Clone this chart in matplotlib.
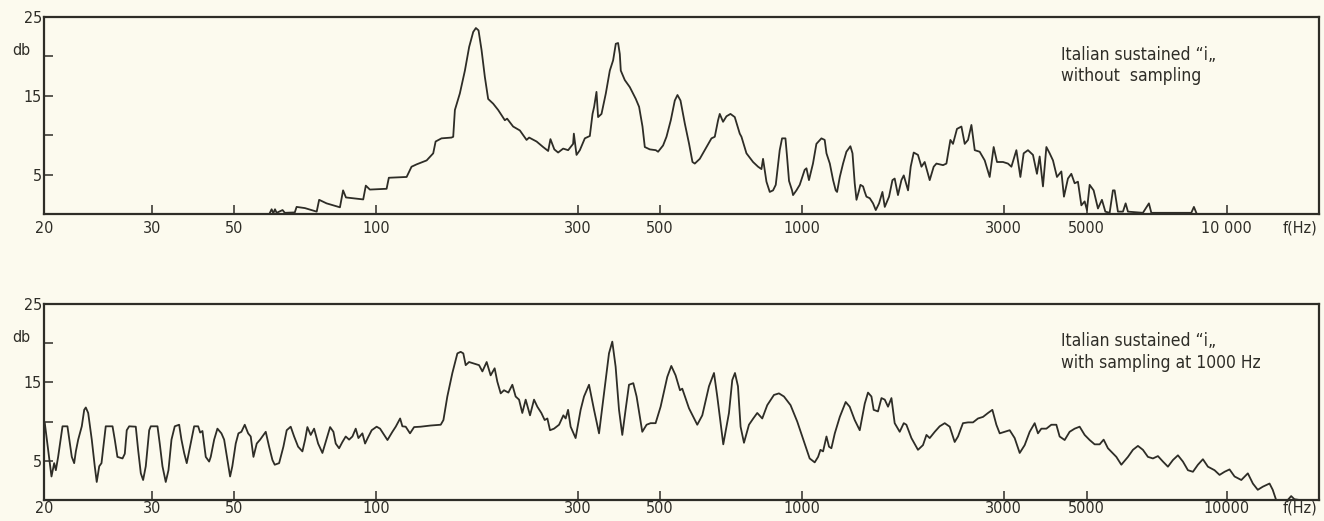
import matplotlib.pyplot as plt
import numpy as np
from matplotlib.ticker import NullLocator
from matplotlib.transforms import blended_transform_factory

# Spectrum of an Italian sustained "i": without sampling (top), sampled at 1000 Hz (bottom)

# --- top curve (Hz, db) ---
hz_top = [59.6, 60.1, 60.6, 61.1, 61.6, 63.4, 64.1, 67.3, 67.9, 70.7, 74.9, 75.8, 78.6,
          83.9, 85.2, 86.4, 94.0, 95.2, 97.1, 106.0, 107.3, 118.2, 121.4, 124.8, 131.8,
          136.6, 138.4, 142.9, 150.9, 152.3, 153.7, 157.9, 162.3, 166.1, 169.8, 172.3,
          174.8, 177.7, 180.9, 184.2, 189.3, 194.5, 201.7, 204.2, 211.0, 218.9, 227.0,
          230.2, 239.7, 248.4, 255.3, 258.5, 264.0, 269.5, 277.0, 284.6, 292.4, 293.6,
          297.9, 303.8, 313.4, 323.3, 328.8, 332.1, 337.0, 340.4, 347.7, 357.2, 366.2,
          373.8, 380.1, 385.6, 389.7, 392.1, 402.0, 414.8, 430.6, 439.5, 448.9, 455.4,
          469.8, 487.7, 494.7, 508.1, 516.6, 527.6, 538.0, 545.1, 553.2, 564.9, 576.9,
          586.5, 593.2, 607.8, 622.8, 643.5, 654.0, 664.6, 670.1, 681.0, 692.4, 706.1,
          721.0, 738.8, 745.0, 763.4, 788.4, 807.9, 821.4, 827.8, 841.7, 855.4, 869.3,
          880.8, 895.1, 898.0, 908.4, 923.5, 930.7, 939.8, 953.7, 958.4, 974.4, 990.2,
          1016, 1026, 1040, 1063, 1083, 1113, 1133, 1144, 1165, 1186, 1203, 1212, 1230,
          1252, 1275, 1303, 1318, 1334, 1347, 1366, 1376, 1396, 1409, 1422, 1448, 1474,
          1496, 1523, 1551, 1571, 1608, 1638, 1658, 1688, 1720, 1742, 1783, 1809, 1839,
          1882, 1918, 1952, 2006, 2050, 2081, 2157, 2197, 2245, 2277, 2327, 2384, 2427,
          2471, 2517, 2563, 2633, 2706, 2780, 2841, 2893, 2989, 3080, 3146, 3244, 3325,
          3393, 3484, 3593, 3682, 3744, 3821, 3902, 3982, 4064, 4165, 4279, 4348, 4456,
          4550, 4644, 4739, 4840, 4939, 5007, 5075, 5176, 5288, 5393, 5485, 5603, 5695,
          5743, 5838, 5985, 6065, 6135, 6607, 6806, 6888, 8396, 8505, 8607]
db_top = [0.15, 0.6, 0.1, 0.6, 0.15, 0.5, 0.15, 0.2, 0.9, 0.75, 0.3, 1.8, 1.35,
          0.85, 3.0, 2.1, 1.85, 3.6, 3.1, 3.2, 4.6, 4.7, 6.0, 6.3, 6.8,
          7.7, 9.2, 9.6, 9.7, 9.8, 13.2, 15.3, 18.2, 21.2, 23.1, 23.6,
          23.3, 20.8, 17.4, 14.6, 14.0, 13.2, 11.9, 12.1, 11.1, 10.6, 9.4,
          9.7, 9.2, 8.5, 8.0, 9.5, 8.2, 7.8, 8.3, 8.1, 8.9, 10.2,
          7.5, 8.1, 9.6, 9.9, 12.7, 13.6, 15.5, 12.3, 12.7, 15.3, 18.2,
          19.5, 21.6, 21.7, 20.3, 18.2, 17.0, 16.1, 14.6, 13.6, 11.1, 8.5,
          8.2, 8.1, 7.9, 8.7, 9.8, 11.9, 14.4, 15.1, 14.4, 11.5, 8.9,
          6.6, 6.4, 7.0, 8.1, 9.6, 9.8, 11.9, 12.7, 11.7, 12.4, 12.7,
          12.3, 10.2, 9.8, 7.7, 6.6, 6.0, 5.7, 7.0, 4.1, 2.8, 3.0,
          3.7, 7.3, 8.1, 9.6, 9.6, 7.3, 4.2, 3.0, 2.4, 3.0, 3.7,
          5.6, 5.8, 4.3, 6.4, 8.9, 9.6, 9.4, 7.7, 6.4, 4.3, 3.0, 2.8, 4.7,
          6.4, 7.9, 8.6, 7.7, 3.9, 1.8, 3.0, 3.7, 3.5, 2.8, 2.2, 2.0, 1.35,
          0.5, 1.35, 2.8, 0.9, 2.2, 4.3, 4.5, 2.4, 4.3, 4.9, 3.0, 6.0, 7.8,
          7.5, 6.0, 6.6, 4.3, 6.0, 6.4, 6.2, 6.4, 9.4, 8.9, 10.8, 11.1, 8.9,
          9.4, 11.3, 8.1, 7.9, 6.8, 4.7, 8.5, 6.6, 6.6, 6.4, 6.0, 8.1, 4.7,
          7.7, 8.1, 7.5, 5.1, 7.3, 3.5, 8.5, 7.7, 6.8, 4.7, 5.4, 2.2, 4.5,
          5.1, 3.9, 4.1, 1.1, 1.6, 0.5, 3.7, 3.0, 0.7, 1.8, 0.3, 0.15, 3.0,
          3.0, 0.3, 0.3, 1.35, 0.3, 0.15, 1.35, 0.15, 0.15, 0.9, 0.15]

# --- bottom curve (Hz, db) ---
hz_bot = [20.06, 20.57, 20.78, 20.91, 21.09, 21.44, 21.84, 22.04, 22.20, 22.40, 22.54,
          22.74, 23.05, 23.26, 23.40, 23.61, 23.93, 24.20, 24.38, 24.61, 24.82, 25.07,
          25.22, 25.87, 26.09, 26.35, 26.86, 27.09, 27.29, 27.54, 28.23, 28.48, 28.77,
          29.02, 29.31, 29.69, 29.87, 31.05, 31.49, 32.03, 32.69, 33.25, 33.88, 34.58,
          35.54, 36.05, 36.66, 37.26, 38.20, 39.02, 40.01, 40.51, 41.09, 41.95, 42.84,
          43.27, 44.20, 45.11, 46.25, 47.04, 48.02, 48.82, 49.5, 50.44, 51.11, 51.86,
          52.71, 53.59, 54.27, 55.0, 55.89, 56.82, 57.75, 58.40, 59.37, 60.34, 61.02,
          62.34, 63.66, 64.70, 65.97, 67.08, 68.40, 69.85, 70.78, 71.57, 72.74, 73.96,
          75.42, 77.02, 78.27, 79.97, 81.27, 82.19, 83.56, 84.92, 86.30, 87.74, 89.17,
          90.62, 91.82, 93.62, 94.86, 96.26, 97.97, 100.4, 102.3, 104.6,
          106.5, 109.4, 111.4, 114.1, 115.5, 117.6, 120.4, 123.1, 127.6, 134.7, 142.3,
          144.4, 147.5, 151.6, 155.8, 158.6, 160.9, 163.0, 166.0, 170.6, 175.3, 178.5,
          182.7, 186.7, 190.8, 193.6, 197.2, 200.8, 205.6, 210.1, 213.9, 217.9, 221.8,
          225.9, 231.3, 236.4, 240.7, 246.0, 250.5, 254.2, 257.9, 263.6, 270.9, 277.3,
          280.8, 284.5, 288.5, 296.4, 305.3, 311.8, 321.7, 331.9, 342.4, 353.2, 364.3,
          371.9, 379.7, 387.8, 395.8, 404.0, 412.7, 423.9, 432.7, 448.3, 460.5, 472.1,
          487.1, 502, 518.6, 528.9, 540.1, 551.8, 558.0, 576.6, 600.4, 615.3, 635.7,
          651.5, 662.0, 681.7, 700.9, 712.3, 721.8, 732.4, 741.8, 754.2, 772.8, 789.2,
          804.7, 824.6, 845.0, 873.1, 894.7, 916.8, 946.8, 978.3,
          1016, 1044, 1073, 1093, 1107, 1123, 1144, 1160, 1175, 1197, 1230, 1270, 1298,
          1334, 1371, 1409, 1434, 1461, 1479, 1514, 1543, 1571, 1599, 1629, 1658, 1704,
          1742, 1767, 1816, 1882, 1934, 1971, 2006, 2062, 2118, 2177, 2237, 2298, 2340,
          2404, 2471, 2539, 2609, 2681, 2755, 2821, 2883, 2936, 3018, 3113, 3210, 3311,
          3414, 3521, 3631, 3705, 3783, 3902, 4023, 4149, 4234, 4367, 4503, 4644, 4789,
          4939, 5075, 5202, 5333, 5439, 5556, 5792, 5937, 6135, 6288, 6446, 6607, 6773,
          6943, 7117, 7296, 7478, 7666, 7858, 8055, 8257, 8464, 8676, 8893, 9116, 9421,
          9657, 9900, 10160, 10440, 10830, 11220, 11530, 11840, 12170, 12620, 12840,
          13080, 13440, 13930, 14190, 14440, 14840]
db_bot = [9.8, 3.0, 4.7, 3.8, 5.5, 9.4, 9.4, 7.2, 5.5, 4.7, 6.2,
          7.7, 9.4, 11.5, 11.8, 11.1, 7.7, 4.3, 2.3, 4.3, 4.7, 7.7,
          9.4, 9.4, 7.7, 5.5, 5.3, 5.9, 8.9, 9.4, 9.35, 6.4, 3.4,
          2.55, 4.3, 8.9, 9.4, 9.4, 7.2, 4.3, 2.3, 3.8, 7.7, 9.4,
          9.6, 7.7, 6.0, 4.7, 7.2, 9.4, 9.4, 8.6, 8.8, 5.5, 4.9,
          5.5, 7.7, 9.1, 8.5, 7.7, 5.1, 3.0, 4.3, 7.2, 8.5, 8.7,
          9.6, 8.5, 8.1, 5.5, 7.2, 7.7, 8.3, 8.7, 6.8, 5.1, 4.5,
          4.7, 6.8, 8.9, 9.35, 8.1, 6.8, 6.2, 7.7, 9.3, 8.3, 9.1,
          7.2, 6.0, 7.4, 9.3, 8.7, 7.2, 6.6, 7.4, 8.1, 7.7, 8.1,
          9.1, 7.9, 8.5, 7.2, 8.0, 8.9, 9.35, 9.1, 8.3,
          7.65, 8.7, 9.35, 10.4, 9.4, 9.35, 8.5, 9.3, 9.35, 9.5, 9.6,
          10.2, 13.2, 16.2, 18.7, 18.9, 18.7, 17.2, 17.6, 17.4, 17.2, 16.4,
          17.6, 15.9, 16.8, 15.1, 13.6, 14.0, 13.7, 14.7, 13.2, 12.8, 11.1,
          12.8, 10.8, 12.8, 11.9, 11.1, 10.2, 10.4, 8.9, 9.1, 9.6, 10.8,
          10.4, 11.5, 9.35, 7.9, 11.5, 13.2, 14.7, 11.5, 8.5, 13.6, 18.7,
          20.2, 17.0, 11.5, 8.3, 11.5, 14.7, 14.9, 13.2, 8.7, 9.6, 9.8,
          9.8, 11.9, 15.7, 17.1, 15.9, 14.0, 14.2, 11.7, 9.6, 10.8, 14.5,
          16.2, 13.2, 7.1, 11.1, 15.3, 16.2, 14.5, 9.35, 7.3, 9.6, 10.4,
          11.1, 10.4, 12.1, 13.4, 13.6, 13.2, 12.1, 10.0,
          7.2, 5.3, 4.8, 5.5, 6.4, 6.2, 8.1, 6.8, 6.6, 8.5, 10.6, 12.5, 11.9,
          10.2, 8.9, 12.3, 13.7, 13.2, 11.5, 11.3, 13.0, 12.8, 11.9, 13.0, 9.8, 8.7,
          9.8, 9.6, 7.9, 6.4, 7.0, 8.3, 7.9, 8.7, 9.4, 9.8, 9.35, 7.4, 8.1,
          9.8, 9.9, 9.9, 10.4, 10.6, 11.1, 11.5, 9.6, 8.5, 8.7, 8.9, 7.9, 6.0,
          7.0, 8.7, 9.8, 8.5, 9.1, 9.1, 9.6, 9.6, 8.1, 7.65, 8.7, 9.1, 9.35,
          8.3, 7.65, 7.1, 7.1, 7.7, 6.6, 5.5, 4.5, 5.5, 6.4, 6.9, 6.4, 5.5,
          5.3, 5.6, 4.9, 4.25, 5.1, 5.7, 4.9, 3.8, 3.6, 4.5, 5.2, 4.25, 3.8,
          3.2, 3.6, 3.9, 3.0, 2.55, 3.4, 2.1, 1.3, 1.7, 2.1, 1.3,
          0.0, 0.0, 0.0, 0.5, 0.1, 0.0]

x_ticks = [20, 30, 50, 100, 300, 500, 1000, 3000, 5000, 10000]
x_labels_top = ["20", "30", "50", "100", "300", "500", "1000", "3000", "5000", "10 000"]
x_labels_bot = ["20", "30", "50", "100", "300", "500", "1000", "3000", "5000", "10000"]
y_ticks = [5, 10, 15, 20, 25]
y_labels = ["5", "", "15", "", "25"]

caption_top = "Italian sustained \u201ci\u201e\nwithout  sampling"
caption_bot = "Italian sustained \u201ci\u201e\nwith sampling at 1000 Hz"

paper = "#fcfaee"
ink = "#2e2d27"

# the frequency ruler of the original chart is only roughly logarithmic:
# rebuild it from where its ticks sit (426 units per decade above 100 Hz)
ruler_log = np.log10(x_ticks)
ruler_pos = np.array([44, 152, 234, 376, 578, 660, 802, 1004, 1087, 1227], dtype=float)
lo_slope = (ruler_pos[1] - ruler_pos[0]) / (ruler_log[1] - ruler_log[0])
hi_slope = (ruler_pos[-1] - ruler_pos[-4]) / (ruler_log[-1] - ruler_log[-4])
ruler_log = np.concatenate([[ruler_log[0] - 3], ruler_log, [ruler_log[-1] + 3]])
ruler_pos = np.concatenate([[ruler_pos[0] - 3 * lo_slope], ruler_pos, [ruler_pos[-1] + 3 * hi_slope]])


def fwd(f):
    f = np.clip(np.asarray(f, dtype=float), 1e-6, None)
    return np.interp(np.log10(f), ruler_log, ruler_pos)


def inv(p):
    return 10 ** np.interp(np.asarray(p, dtype=float), ruler_pos, ruler_log)


plt.rcParams['font.family'] = ['DejaVu Sans']
plt.rcParams['font.stretch'] = 'condensed'

W, H = 1324, 521
fig = plt.figure(figsize=(W / 100, H / 100), dpi=100, facecolor=paper)
ax_top = fig.add_axes([44 / W, 1 - 214 / H, 1275 / W, 197 / H])
ax_bot = fig.add_axes([44 / W, 1 - 500 / H, 1275 / W, 196 / H])


def draw(ax, hz, db, xlabels, caption, pad):
    ax.set_facecolor(paper)
    ax.plot(hz, db, color=ink, lw=1.3, solid_joinstyle='round')
    ax.set_xscale('function', functions=(fwd, inv))
    ax.set_xlim(20, 16500)
    ax.set_ylim(0, 25)
    ax.set_xticks(x_ticks)
    ax.set_xticklabels(xlabels)
    ax.xaxis.set_minor_locator(NullLocator())
    ax.set_yticks(y_ticks)
    ax.set_yticklabels(y_labels)
    ax.tick_params(direction='in', length=6.5, width=1.1, color=ink, labelcolor=ink, labelsize=11.5)
    ax.tick_params(axis='x', pad=pad)
    ax.tick_params(axis='y', pad=1.5)
    for s in ax.spines.values():
        s.set_linewidth(1.6)
        s.set_color(ink)
    tr = blended_transform_factory(ax.transAxes, ax.transData)
    ax.text(-0.011, 20.7, "db", transform=tr, ha='right', va='center', fontsize=11.5, color=ink)
    ax.text(0.798, 0.855, caption, transform=ax.transAxes, ha='left', va='top',
            fontsize=12.5, color=ink, linespacing=1.25)
    ax.annotate("f(Hz)", xy=(0.985, 0), xycoords='axes fraction', xytext=(0, -pad),
                textcoords='offset points', ha='center', va='top', fontsize=11.5, color=ink)


draw(ax_top, hz_top, db_top, x_labels_top, caption_top, 5)
draw(ax_bot, hz_bot, db_bot, x_labels_bot, caption_bot, 0.5)

fig.savefig("out.png", dpi=100, facecolor=paper)
